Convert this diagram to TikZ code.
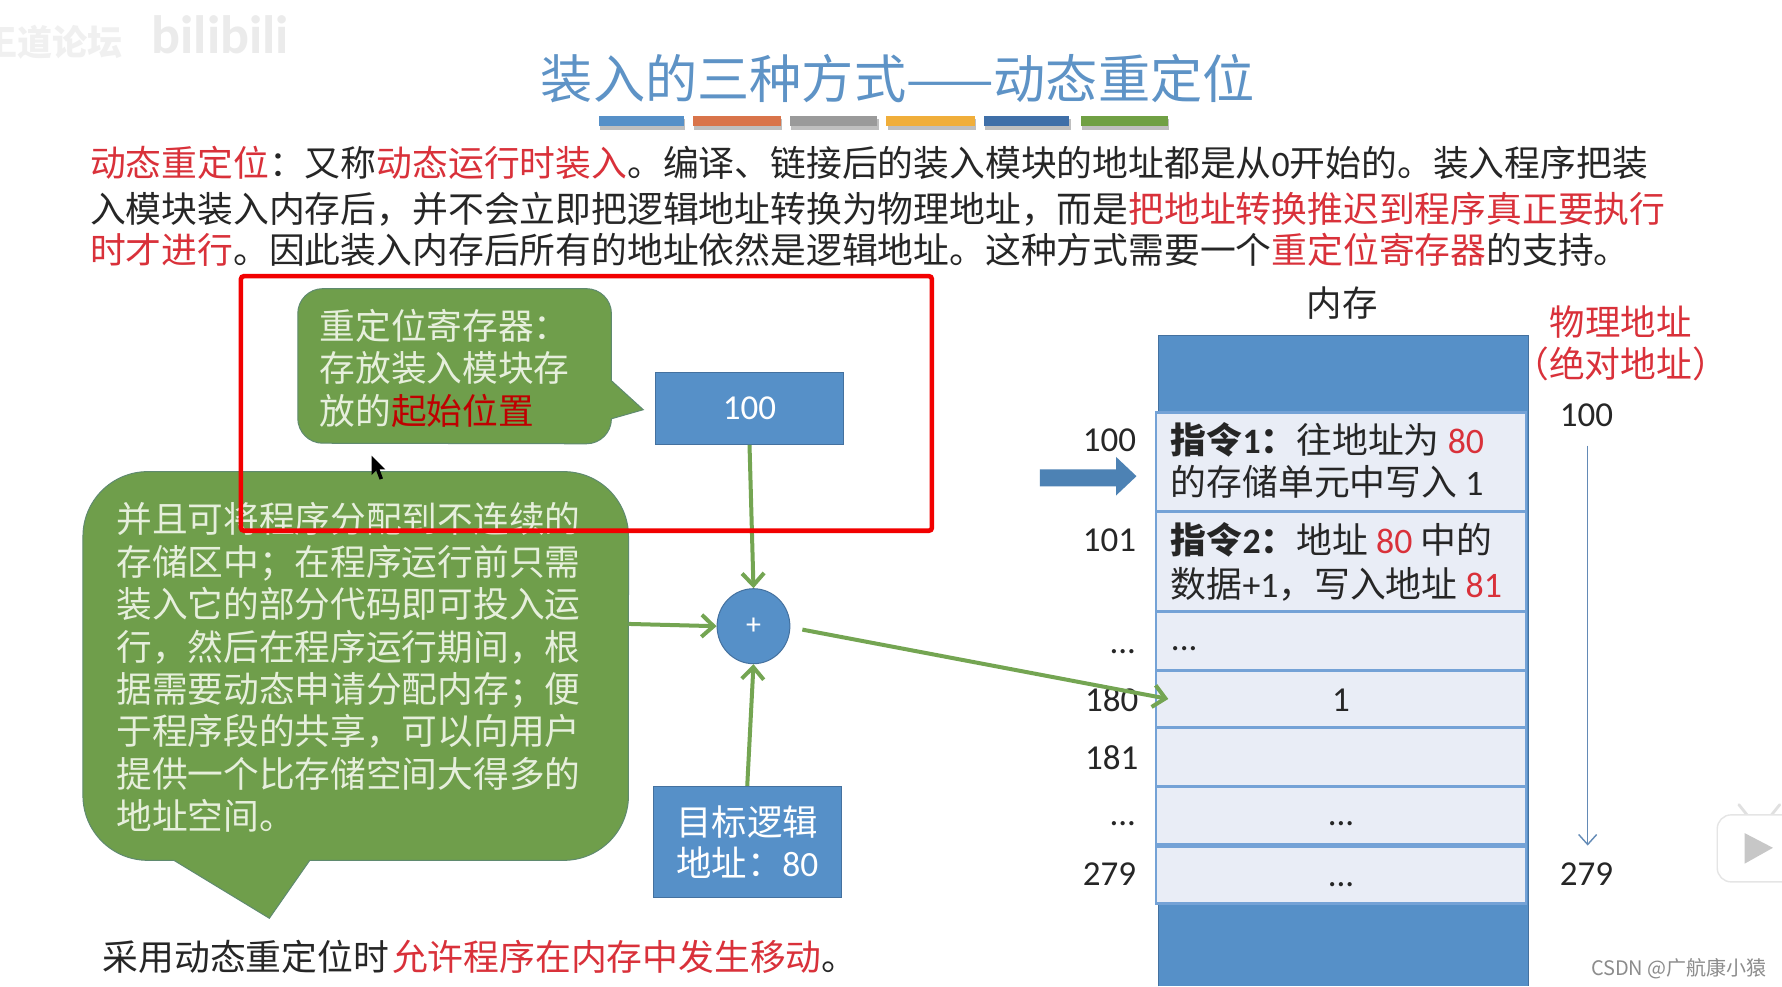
\documentclass[tikz,border=0pt]{standalone}
\usepackage{fontspec}
\setmainfont{Noto Sans CJK SC}
\newfontfamily\latf{Carlito}
\usetikzlibrary{arrows.meta,shapes.geometric}
\definecolor{bluef}{HTML}{5690C8}
\definecolor{blued}{HTML}{44719F}
\definecolor{greenf}{HTML}{6F9E4B}
\definecolor{greend}{HTML}{5F8A6F}
\definecolor{greena}{HTML}{74A552}
\definecolor{cellf}{HTML}{E9EDF6}
\definecolor{celld}{HTML}{74A2D6}
\definecolor{redt}{HTML}{D9313A}
\definecolor{pale}{HTML}{E6EFDC}
\definecolor{titleb}{HTML}{5E93C6}
\newcommand\lt[1]{{\latf #1}}
\newcommand\rd[1]{\textcolor{redt}{#1}}
\newcommand\rdb[1]{\textcolor{red!75!black}{#1}}
\newcommand\fcolon{\char"FF1A\relax}
\newcommand\fcomma{\char"FF0C\relax}
\newcommand\fsemi{\char"FF1B\relax}
\newcommand\flp{\char"FF08\relax}
\newcommand\frp{\char"FF09\relax}
\tikzset{
  x=0.5682pt,y=-0.5682pt,
  body/.style={inner sep=0pt,anchor=west,font=\fontsize{17.9}{21}\selectfont,text=black!85},
  label/.style={inner sep=0pt,font=\fontsize{17.5}{21}\selectfont\latf,text=black!85},
  rlabel/.style={label,anchor=east},
  blockbox/.style={draw=blued,line width=0.5pt,fill=bluef,text=white,inner sep=0pt,minimum width=94pt,align=center,font=\fontsize{17.7}{20.5}\selectfont},
  plus/.style={ellipse,draw=blued,line width=0.5pt,fill=bluef,text=white,inner sep=0pt,minimum width=36.4pt,minimum height=37.5pt,font=\fontsize{15}{15}\selectfont\latf},
  cell/.style={draw=celld,line width=1.2pt,fill=cellf,inner sep=0pt,minimum width=185.2pt,font=\fontsize{17.5}{21}\selectfont},
  callout/.style={fill=greenf,draw=greend,line width=0.5pt},
  calltext/.style={inner sep=0pt,anchor=north west,align=left,text=pale,font=\fontsize{17.85}{21.2}\selectfont},
  flow/.style={draw=greena,line width=2pt,-{Straight Barb[length=6pt,width=11pt,line width=2pt]}},
}
\begin{document}
\begin{tikzpicture}
\useasboundingbox (0,0) rectangle (1568,868);
\clip (0,0) rectangle (1568,868);
\fill[white] (0,0) rectangle (1568,868);
% watermarks
\node[inner sep=0pt,anchor=west,text=black!6,font=\fontsize{17.5}{17}\selectfont\bfseries] (wm1) at (-16,37) {王道论坛};
\node[inner sep=0pt,anchor=west,text=black!8,font=\fontsize{27}{27}\selectfont\bfseries\latf] (wm2) at (133,31) {bilibili};
% title
\node[inner sep=0pt,text=titleb,font=\fontsize{26.1}{30}\selectfont] (title) at (790,69) {装入的三种方式——动态重定位};
% bars
\foreach \a/\b/\c in {527/602/5690C8,610/687/D9744A,695/772/9A9A9A,780/858/F0AE3A,866/941/3F6FA8,951/1028/70A044}{
  \definecolor{barc}{HTML}{\c}
  \fill[black!25] (\a+1,105) rectangle (\b+1,114);
  \fill[barc] (\a,102) rectangle (\b,111);
}
% paragraph
\node[body] (p1) at (79,143) {\rd{动态重定位}\fcolon 又称\rd{动态运行时装入}。编译、链接后的装入模块的地址都是从\lt{0}开始的。装入程序把装};
\node[body] (p2) at (79,184) {入模块装入内存后\fcomma 并不会立即把逻辑地址转换为物理地址\fcomma 而是\rd{把地址转换推迟到程序真正要执行}};
\node[body] (p3) at (79,220) {\rd{时才进行}。因此装入内存后所有的地址依然是逻辑地址。这种方式需要一个\rd{重定位寄存器}的支持。};
% callouts
\draw[callout] (284,254) -- (516,254) arc[start angle=90,end angle=0,radius=12.5pt] -- (538,335) -- (566,360.5) -- (538,368.5) arc[start angle=0,end angle=-90,radius=12.5pt] -- (284,390) arc[start angle=270,end angle=180,radius=12.5pt] -- (262,276) arc[start angle=180,end angle=90,radius=12.5pt] -- cycle;
\node[calltext] (ctext1) at (281,271.5) {重定位寄存器\fcolon\\存放装入模块存\\放的\rdb{起始位置}};
\draw[callout] (130,415) -- (496,415) arc[start angle=90,end angle=0,radius=32.4pt] -- (553,700) arc[start angle=0,end angle=-90,radius=32.4pt] -- (272.6,757) -- (237,808) -- (153,757) -- (130,757) arc[start angle=270,end angle=180,radius=32.4pt] -- (73,472) arc[start angle=180,end angle=90,radius=32.4pt] -- cycle;
\node[calltext] (ctext2) at (102,442) {并且可将程序分配到不连续的\\存储区中\fsemi 在程序运行前只需\\装入它的部分代码即可投入运\\行\fcomma 然后在程序运行期间\fcomma 根\\据需要动态申请分配内存\fsemi 便\\于程序段的共享\fcomma 可以向用户\\提供一个比存储空间大得多的\\地址空间。};
% boxes
\node[blockbox,minimum height=35.8pt,font=\fontsize{17.5}{20}\selectfont\latf] (base) at (659.5,359.5) {\raisebox{-1pt}{100}};
\node[plus] (sum) at (663,551) {\raisebox{-1pt}{+}};
\node[blockbox,minimum height=55.7pt] (logic) at (657.5,741) {目标逻辑\\地址\fcolon\lt{80}};
% memory
\fill[bluef] (1019,295) rectangle (1345,868);
\draw[blued,line width=0.5pt] (1019,868) -- (1019,295) -- (1345,295) -- (1345,868);
\node[cell,minimum height=49.4pt] (c1) at (1180,406.5) {};
\node[cell,minimum height=50pt] (c2) at (1180,494) {};
\node[cell,minimum height=29.5pt] (c3) at (1180,564) {};
\node[cell,minimum height=28.4pt] (c4) at (1180,615) {};
\node[cell,minimum height=29.5pt] (c5) at (1180,666) {};
\node[cell,minimum height=29pt] (c6) at (1180,717.5) {};
\node[cell,minimum height=28.4pt] (c7) at (1180,770) {};
\node[body] (t1a) at (1030,387) {\textbf{指令\lt{1}\fcolon}往地址为 \rd{\lt{80}}};
\node[body] (t1b) at (1030,424) {的存储单元中写入 \lt{1}};
\node[body] (t2a) at (1030,475) {\textbf{指令\lt{2}\fcolon}地址 \rd{\lt{80}} 中的};
\node[body] (t2b) at (1030,514) {数据\lt{+1}\fcomma 写入地址 \rd{\lt{81}}};
\node[label,anchor=west] (t3) at (1030,571) {...};
\node[label] (t4) at (1180,616) {1};
\node[label] (t6) at (1180,725) {...};
\node[label] (t7) at (1180,778) {...};
\node[inner sep=0pt,font=\fontsize{17.7}{21}\selectfont,text=black!85] (memt) at (1181,267) {内存};
% left labels
\node[rlabel] (a100) at (1000,387) {100};
\node[rlabel] (a101) at (1000,475) {101};
\node[rlabel] (adots1) at (1000,573) {...};
\node[rlabel] (a180) at (1002,616) {180};
\node[rlabel] (a181) at (1002,667) {181};
\node[rlabel] (adots2) at (1000,725) {...};
\node[rlabel] (a279) at (1000,769) {279};
% block arrow
\path[fill=bluef!90!black] (915,413) -- (982,413) -- (982,402) -- (1000,419) -- (982,436) -- (982,428) -- (915,428) -- cycle;
% right side
\node[inner sep=0pt,text=redt,font=\fontsize{17.7}{21}\selectfont] (ph1) at (1426,283) {物理地址};
\node[inner sep=0pt,text=redt,font=\fontsize{17.9}{21}\selectfont] (ph2) at (1426,320) {\flp 绝对地址\frp};
\node[label] (p100) at (1396,365) {100};
\node[label] (p279) at (1396,769) {279};
\coordinate (ps) at (1397,392);
\coordinate (pe) at (1397,744);
\draw[draw=celld!85!black,line width=0.7pt,-{Straight Barb[length=5pt,width=9pt]}] (ps) -- (pe);
% bottom sentence
\node[body] (foot) at (90,842) {采用动态重定位时\hspace{1.5pt}\rd{允许程序在内存中发生移动}。};
% flows
\coordinate (bigout) at (553,549);
\coordinate (sumout) at (706,554);
\coordinate (cellin) at (1028,615);
\draw[flow] (base.south) -- (sum.north);
\draw[flow] (bigout) -- (sum.west);
\draw[flow] (logic.north) -- (sum.south);
\draw[flow] (sumout) -- (cellin);
% red frame
\draw[draw=red!95!black,line width=2.3pt,rounded corners=1.5pt] (212,243) rectangle (820,467);
% cursor
\fill[black] (327,401) -- (327,418) -- (331,414) -- (334,422) -- (337,421) -- (334,413) -- (339,413) -- cycle;
% bilibili icon
\draw[black!12,line width=1.4pt,line cap=round] (1530,708) -- (1538,718);
\draw[black!12,line width=1.4pt,line cap=round] (1566,708) -- (1558,718);
\draw[black!10,fill=white,line width=0.7pt,rounded corners=7pt] (1511,717) rectangle (1595,776);
\fill[black!22] (1535,733) -- (1535,760) -- (1560,746) -- cycle;
% csdn
\node[inner sep=0pt,anchor=east,text=black!45,font=\fontsize{10}{12}\selectfont] (csdn) at (1555,852) {CSDN @广航康小猿};
\end{tikzpicture}
\end{document}
